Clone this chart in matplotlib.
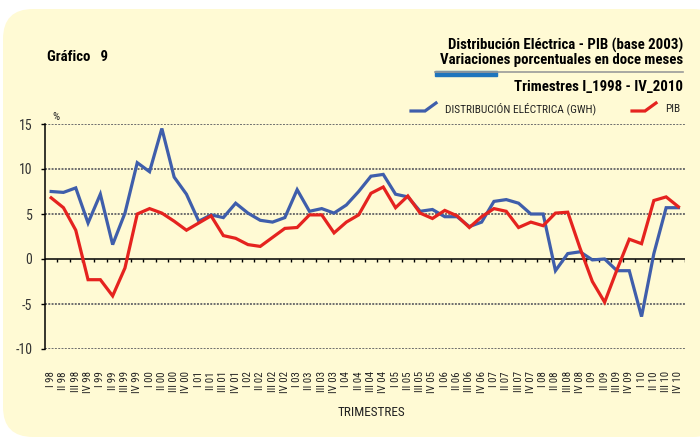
import numpy as np
import matplotlib
matplotlib.use("Agg")
import matplotlib.pyplot as plt
import matplotlib.font_manager as fm
from matplotlib.patches import FancyBboxPatch, Rectangle
from matplotlib.lines import Line2D
from matplotlib.transforms import IdentityTransform

# ---------------- data ----------------
years = list(range(1998, 2011))
quarters = ["I", "II", "III", "IV"]
tick_labels = [f"{q} {y % 100:02d}" for y in years for q in quarters]

distribucion = [7.5, 7.4, 7.9, 4.0, 7.2, 1.6, 5.1, 10.7, 9.7, 14.5, 9.1, 7.2, 4.2, 4.9,
                4.6, 6.2, 5.1, 4.3, 4.1, 4.6, 7.7, 5.3, 5.6, 5.1, 6.0, 7.5, 9.2,
                9.4, 7.2, 6.9, 5.3, 5.5, 4.7, 4.7, 3.6, 4.1, 6.4, 6.6, 6.2,
                5.0, 5.0, -1.3, 0.6, 0.8, -0.1, 0.0, -1.3, -1.3, -6.4, 0.6, 5.7, 5.7]
pib = [6.8, 5.7, 3.2, -2.3, -2.3, -4.1, -1.0, 5.0, 5.6, 5.1, 4.2, 3.2, 4.0, 4.8,
       2.6, 2.3, 1.6, 1.4, 2.4, 3.4, 3.5, 4.9, 4.9, 2.9, 4.1, 4.9,
       7.3, 8.0, 5.7, 7.0, 5.1, 4.5, 5.4, 4.8, 3.5, 4.7, 5.6, 5.3, 3.5,
       4.1, 3.7, 5.1, 5.2, 1.2, -2.5, -4.8, -1.2, 2.2, 1.7, 6.5, 6.9, 5.8]
yticks = [-10, -5, 0, 5, 10, 15]

# ---------------- fonts ----------------
names = {f.name for f in fm.fontManager.ttflist}
narrow = None
for cand in ["Liberation Sans Narrow", "Roboto Condensed", "Open Sans Condensed",
             "DejaVu Sans Condensed", "Noto Sans Condensed"]:
    if cand in names:
        narrow = cand
        break
if narrow is None:
    FAM = ["Liberation Sans", "DejaVu Sans"]
    SF = 0.85
else:
    FAM = [narrow, "DejaVu Sans"]
    SF = 1.0
plt.rcParams["font.family"] = FAM

BLUE = "#3f5eab"
RED = "#e5231f"
BG = "#fffad4"
TXT = "#222222"

W, H = 700, 438
fig = plt.figure(figsize=(W / 100, H / 100), dpi=100, facecolor="white")


def P(x, y):
    return (x / W, 1 - y / H)


# rounded background panel (pixel coordinates)
bg = FancyBboxPatch((3, 1), 720, 428, boxstyle="round,pad=0,rounding_size=30",
                    transform=IdentityTransform(), facecolor=BG, edgecolor="none",
                    zorder=-10)
fig.patches.append(bg)

# axes
left, right, top, bottom = 45, 684.6, 124, 349
ax = fig.add_axes([left / W, 1 - bottom / H, (right - left) / W, (bottom - top) / H])
ax.set_zorder(5)
ax.set_facecolor("none")
x = np.arange(len(tick_labels))
ax.set_xlim(-0.5, len(tick_labels) - 0.5)
ax.set_ylim(-10, 15)

for yv in yticks:
    if yv == 0:
        ax.axhline(0, color="black", lw=1.1, zorder=2)
    else:
        ax.axhline(yv, color="#6e6e6e", lw=1.4, ls=(0, (1, 0.7)), zorder=1)

# small tick marks on zero line between quarters
mids = x + 0.5
ax.vlines(mids, 0, -0.38, color="black", lw=1.0, zorder=2)

ax.plot(x, distribucion, color=BLUE, lw=2.3, zorder=3, solid_joinstyle="miter")
ax.plot(x, pib, color=RED, lw=2.3, zorder=4, solid_joinstyle="miter")

for s in ["top", "right", "bottom"]:
    ax.spines[s].set_visible(False)
ax.spines["left"].set_linewidth(1.1)
ax.set_yticks(yticks)
ax.set_yticklabels([str(v) for v in yticks], fontsize=10 * SF, color="#333333")
ax.tick_params(axis="y", length=3, width=1, pad=6, color="black")
ax.set_xticks(x)
ax.set_xticklabels(tick_labels, rotation=90, fontsize=7.8 * SF, color=TXT, va="top",
                   ha="center")
ax.tick_params(axis="x", length=0, pad=16)

# texts
fig.text(*P(52, 117), "%", fontsize=8 * SF, color=TXT, ha="left", va="center")
fig.text(*P(371, 412), "TRIMESTRES", fontsize=9.5 * SF, color=TXT, ha="center", va="center")
fig.text(*P(47, 57), "Gráfico   9", fontsize=10.7 * SF, fontweight="bold", color="black",
         ha="left", va="center")
fig.text(*P(683, 45), "Distribución Eléctrica - PIB (base 2003)", fontsize=10.7 * SF,
         fontweight="bold", color="black", ha="right", va="center")
fig.text(*P(683, 60), "Variaciones porcentuales en doce meses", fontsize=10.7 * SF,
         fontweight="bold", color="black", ha="right", va="center")
fig.text(*P(683, 87), "Trimestres I_1998 - IV_2010", fontsize=10.7 * SF,
         fontweight="bold", color="black", ha="right", va="center")

# header rule with blue block
fig.add_artist(Line2D([435 / W, 683 / W], [1 - 72 / H, 1 - 72 / H], color="#9a9a9a",
                      lw=1.2, transform=fig.transFigure))
fig.add_artist(Rectangle(P(435, 76), 62 / W, 5 / H, color="#1f75bd",
                         transform=fig.transFigure))

# legend glyphs
for (xs, col) in [((411, 425, 436), BLUE), ((632, 645, 656), RED)]:
    pts = [P(xs[0], 111), P(xs[1], 111), P(xs[2], 103)]
    fig.add_artist(Line2D([p[0] for p in pts], [p[1] for p in pts], color=col, lw=2.3,
                          transform=fig.transFigure, solid_joinstyle="miter"))
fig.text(*P(445, 109), "DISTRIBUCIÓN ELÉCTRICA (GWH)", fontsize=8.2 * SF, color=TXT,
         ha="left", va="center")
fig.text(*P(665, 109), "PIB", fontsize=8.2 * SF, color=TXT, ha="left", va="center")

fig.savefig("out.png", dpi=100, facecolor="white")
